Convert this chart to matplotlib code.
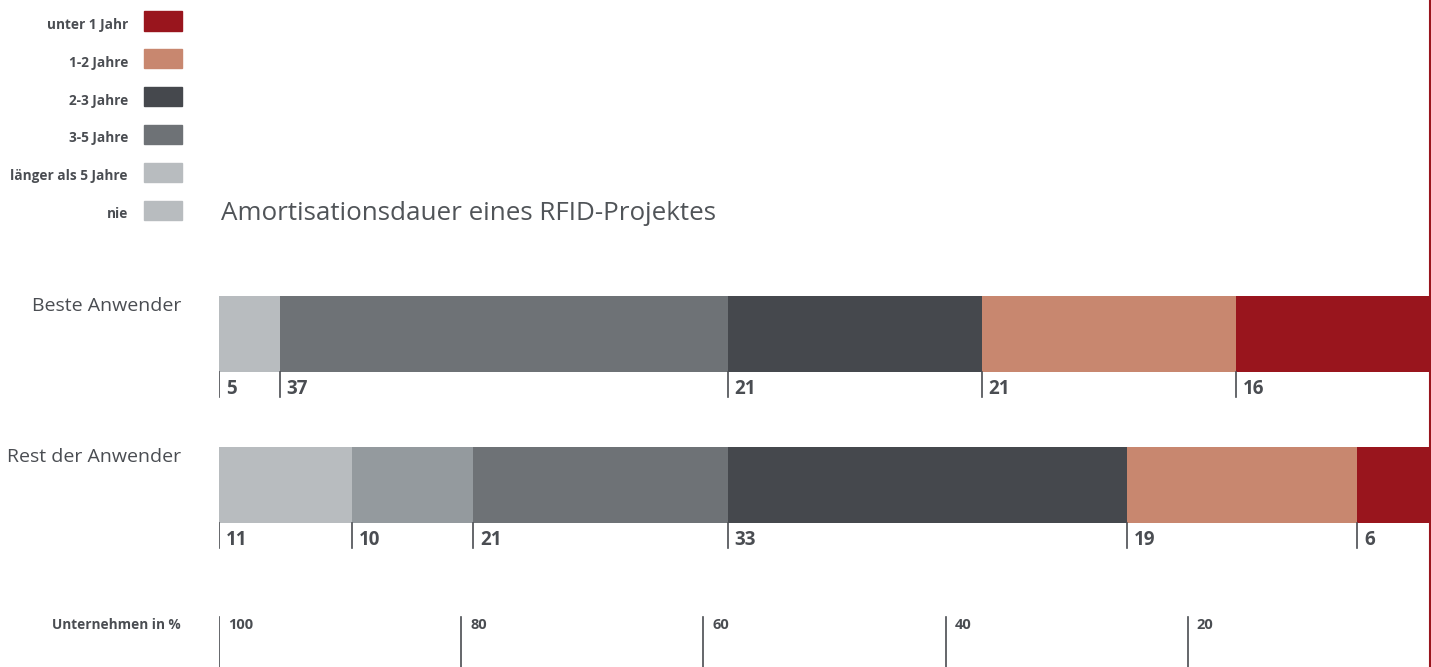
import numpy as np
import matplotlib.pyplot as plt

plt.rcParams['font.family'] = ['Open Sans', 'DejaVu Sans']

# Anteile in % je Gruppe, von links (nie) nach rechts (unter 1 Jahr)
gruppen = ["Beste Anwender", "Rest der Anwender"]
nie = [5, 11]
laenger_5 = [0, 10]
jahre_3_5 = [37, 21]
jahre_2_3 = [21, 33]
jahre_1_2 = [21, 19]
unter_1 = [16, 6]

segmente = [nie, laenger_5, jahre_3_5, jahre_2_3, jahre_1_2, unter_1]
farben = ["#b8bcbf", "#949a9e", "#6e7276", "#45484d", "#c8876f", "#99151d"]

legende_text = ["unter 1 Jahr", "1-2 Jahre", "2-3 Jahre", "3-5 Jahre",
                "länger als 5 Jahre", "nie"]
legende_farben = ["#99151d", "#c8876f", "#45484d", "#6e7276", "#b8bcbf", "#b8bcbf"]

skala = [100, 80, 60, 40, 20]

textfarbe = "#4a4d52"
W, H = 1431, 667
fig = plt.figure(figsize=(W / 100, H / 100), dpi=100)

# Achse: 100 % links, 0 % rechts, y-Einheit = Abstand zwischen den Balken
ax = fig.add_axes([219 / W, 0, (1430 - 219) / W, 1])
ax.set_xlim(100, 0)
y0, dy = 334, 151
ax.set_ylim((H - y0) / dy, -y0 / dy)
ax.axis('off')

def py(p):
    return (p - y0) / dy

for i, g in enumerate(gruppen):
    start = 100.0
    for werte, c in zip(segmente, farben):
        v = werte[i]
        if v == 0:
            continue
        ax.barh(i, -v, left=start, height=76 / dy, color=c, align='center')
        # Markierung und Wert unter dem Segment
        unten = i + 38 / dy
        ax.plot([start, start], [unten, unten + 25 / dy], color=textfarbe, lw=1.2)
        ax.text(start - 0.55, unten + 17 / dy, str(v), fontsize=13.5, fontweight='bold',
                color=textfarbe, va='center', ha='left')
        start -= v
    fig.text(181 / W, 1 - (y0 + dy * i - 28) / H, g, fontsize=14, color=textfarbe,
             ha='right', va='center')

# Skala unten
for s in skala:
    ax.plot([s, s], [py(617), py(667)], color=textfarbe, lw=1.2)
    ax.text(s - 0.75, py(625), str(s), fontsize=10.5, fontweight='bold',
            color=textfarbe, ha='left', va='center')
fig.text(181 / W, 1 - 625 / H, "Unternehmen in %", fontsize=9.8, fontweight='bold',
         color=textfarbe, ha='right', va='center')

# Titel
fig.text(221 / W, 1 - 213 / H, "Amortisationsdauer eines RFID-Projektes",
         fontsize=18.7, color="#505458", ha='left', va='center')

# Legende oben links
for k, (t, c) in enumerate(zip(legende_text, legende_farben)):
    yc = 21 + k * 37.8
    fig.patches.append(plt.Rectangle((144 / W, 1 - (yc + 9.5) / H), 38 / W, 19 / H,
                                     transform=fig.transFigure, color=c))
    fig.text(128 / W, 1 - (yc + 4) / H, t, fontsize=9.8, fontweight='bold',
             color=textfarbe, ha='right', va='center')

# rote Randlinie rechts
fig.add_artist(plt.Line2D([1430 / W, 1430 / W], [0, 1], color="#99151d", lw=1.5,
                          transform=fig.transFigure))

fig.savefig("out.png", dpi=100)
